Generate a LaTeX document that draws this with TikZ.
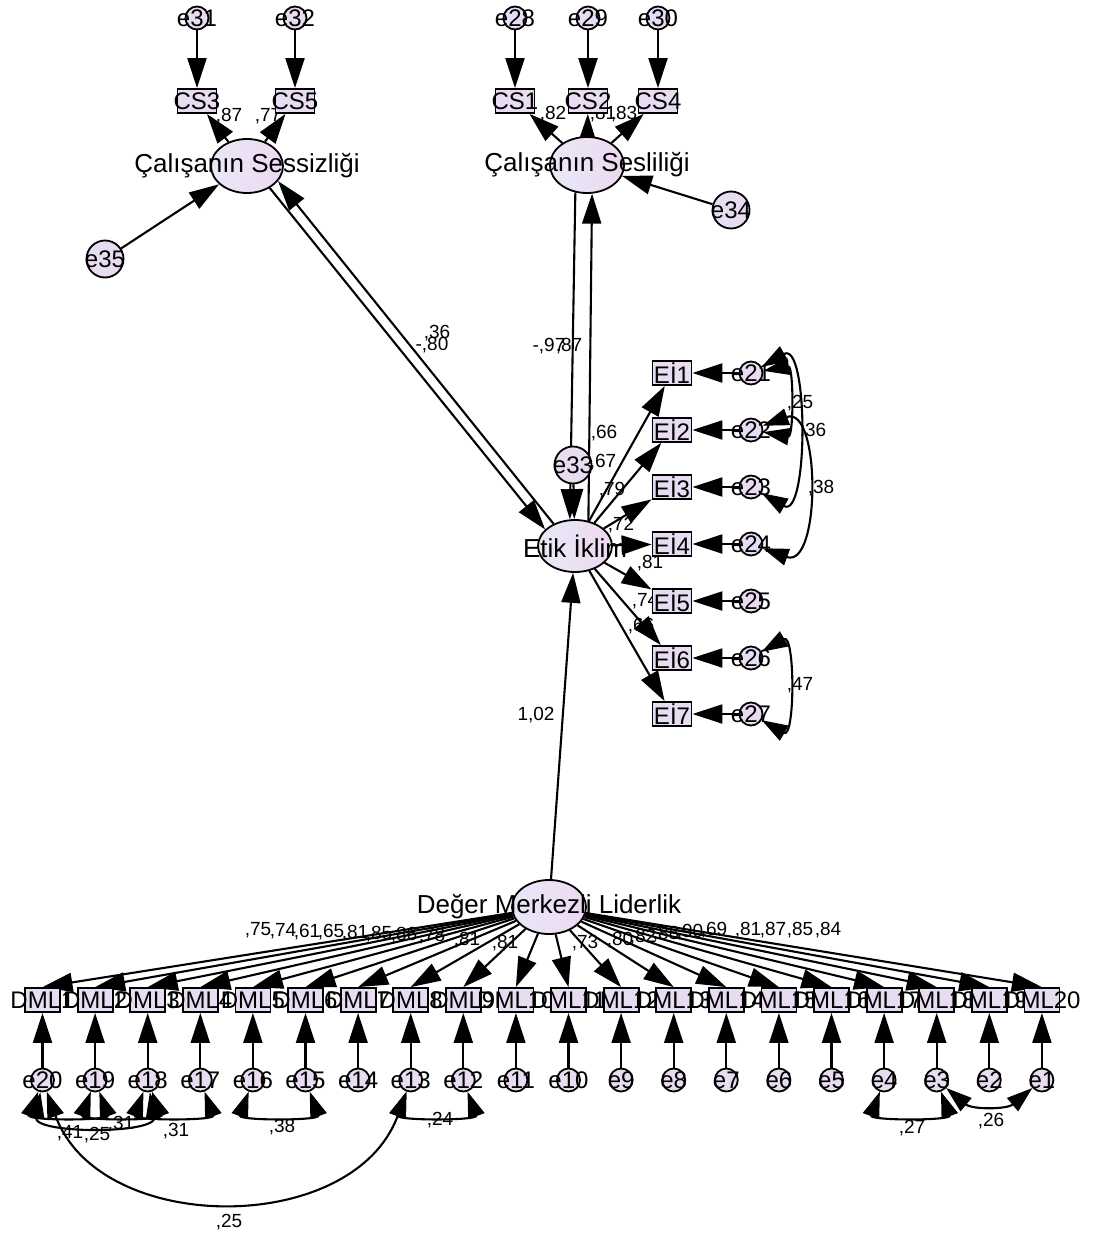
\documentclass[tikz,border=0pt]{standalone}
\usepackage{fontspec}
\setmainfont{Liberation Sans}
\usetikzlibrary{shapes.geometric,arrows.meta}
\definecolor{boxfill}{RGB}{232,220,243}
\definecolor{latleft}{RGB}{232,232,247}
\definecolor{latright}{RGB}{238,216,241}
\pgfdeclarelayer{bg}
\pgfsetlayers{bg,main}

\begin{document}
\begin{tikzpicture}[x=1pt,y=1pt,
  lat/.style={ellipse,draw,line width=1.8pt,left color=latleft,right color=latright,inner sep=0pt,minimum width=74pt,minimum height=54pt},
  obs/.style={rectangle,draw,line width=1.8pt,fill=boxfill,inner sep=0pt,minimum width=39pt,minimum height=24pt},
  dmlbox/.style={obs,minimum width=35pt},
  err/.style={circle,draw,line width=1.8pt,fill=boxfill,inner sep=0pt,minimum size=23pt},
  dist/.style={err,minimum size=37pt},
  lattxt/.style={font=\fontsize{26}{26}\selectfont,inner sep=0pt},
  obstxt/.style={font=\fontsize{24}{24}\selectfont,inner sep=0pt},
  wt/.style={font=\fontsize{19}{19}\selectfont,inner sep=0pt},
  reg/.style={line width=2.1pt,-{Triangle[length=30pt,width=19pt]}},
  cov/.style={line width=2.1pt,{Triangle[length=26pt,width=17pt]}-{Triangle[length=26pt,width=17pt]}}]
  \useasboundingbox (0,0) rectangle (1104,-1239);
  % weights
  \node[wt] (w1) at (229,-116) {,87};
  \node[wt] (w2) at (268,-116) {,77};
  \node[wt] (w3) at (553,-114) {,82};
  \node[wt] (w4) at (603,-114) {,81};
  \node[wt] (w5) at (624,-114) {,83};
  \node[wt] (w6) at (437,-333) {,36};
  \node[wt] (w7) at (432,-345) {-,80};
  \node[wt] (w8) at (549,-346) {-,97};
  \node[wt] (w9) at (569,-346) {,87};
  \node[wt] (w10) at (536,-715) {1,02};
  \node[wt] (w11) at (604,-433) {,66};
  \node[wt] (w12) at (603,-462) {,67};
  \node[wt] (w13) at (612,-490) {,79};
  \node[wt] (w14) at (621,-525) {,72};
  \node[wt] (w15) at (650,-563) {,81};
  \node[wt] (w16) at (645,-601) {,74};
  \node[wt] (w17) at (641,-626) {,66};
  \node[wt] (w18) at (800,-403) {,25};
  \node[wt] (w19) at (813,-431) {,36};
  \node[wt] (w20) at (821,-488) {,38};
  \node[wt] (w21) at (800,-685) {,47};
  \node[wt] (w22) at (258,-930) {,75};
  \node[wt] (w23) at (283,-931) {,74};
  \node[wt] (w24) at (307,-932) {,61};
  \node[wt] (w25) at (331,-932) {,65};
  \node[wt] (w26) at (355,-933) {,81};
  \node[wt] (w27) at (379,-934) {,85};
  \node[wt] (w28) at (404,-935) {,86};
  \node[wt] (w29) at (432,-936) {,78};
  \node[wt] (w30) at (467,-940) {,81};
  \node[wt] (w31) at (505,-943) {,81};
  \node[wt] (w32) at (585,-943) {,73};
  \node[wt] (w33) at (620,-940) {,80};
  \node[wt] (w34) at (643,-937) {,82};
  \node[wt] (w35) at (666,-934) {,88};
  \node[wt] (w36) at (690,-932) {,90};
  \node[wt] (w37) at (714,-930) {,69};
  \node[wt] (w38) at (748,-930) {,81};
  \node[wt] (w39) at (773,-930) {,87};
  \node[wt] (w40) at (800,-930) {,85};
  \node[wt] (w41) at (828,-930) {,84};
  \node[wt] (w42) at (70,-1133) {,41};
  \node[wt] (w43) at (97,-1135) {,25};
  \node[wt] (w44) at (121,-1124) {,31};
  \node[wt] (w45) at (176,-1131) {,31};
  \node[wt] (w46) at (282,-1127) {,38};
  \node[wt] (w47) at (440,-1120) {,24};
  \node[wt] (w48) at (229,-1222) {,25};
  \node[wt] (w49) at (912,-1128) {,27};
  \node[wt] (w50) at (991,-1121) {,26};
  % silence
  \node[err,label={[obstxt]center:e31}] (e31) at (197,-18) {};
  \node[err,label={[obstxt]center:e32}] (e32) at (295,-18) {};
  \node[obs,label={[obstxt]center:CS3}] (cs3) at (197,-101) {};
  \node[obs,label={[obstxt]center:CS5}] (cs5) at (295,-101) {};
  \node[lat,minimum width=72pt,label={[lattxt]center:Çalışanın Sessizliği}] (ses) at (247,-166) {};
  \node[dist,label={[obstxt]center:e35}] (e35) at (105,-259) {};
  % voice
  \node[err,label={[obstxt]center:e28}] (e28) at (515,-18) {};
  \node[err,label={[obstxt]center:e29}] (e29) at (588,-18) {};
  \node[err,label={[obstxt]center:e30}] (e30) at (658,-18) {};
  \node[obs,label={[obstxt]center:CS1}] (cs1) at (515,-101) {};
  \node[obs,label={[obstxt]center:CS2}] (cs2) at (588,-101) {};
  \node[obs,label={[obstxt]center:CS4}] (cs4) at (658,-101) {};
  \node[lat,minimum height=56pt,label={[lattxt]center:Çalışanın Sesliliği}] (sesl) at (587,-165) {};
  \node[dist,label={[obstxt]center:e34}] (e34) at (731,-210) {};
  % ethical climate
  \node[lat,minimum height=52pt,label={[lattxt]center:Etik İklim}] (etik) at (575,-546) {};
  \node[dist,label={[obstxt]center:e33}] (e33) at (573,-465) {};
  \node[obs,label={[obstxt]center:Eİ1}] (ei1) at (672,-373) {};
  \node[obs,label={[obstxt]center:Eİ2}] (ei2) at (672,-430) {};
  \node[obs,label={[obstxt]center:Eİ3}] (ei3) at (672,-487) {};
  \node[obs,label={[obstxt]center:Eİ4}] (ei4) at (672,-544) {};
  \node[obs,label={[obstxt]center:Eİ5}] (ei5) at (672,-601) {};
  \node[obs,label={[obstxt]center:Eİ6}] (ei6) at (672,-658) {};
  \node[obs,label={[obstxt]center:Eİ7}] (ei7) at (672,-714) {};
  \node[err,label={[obstxt]center:e21}] (e21) at (751,-373) {};
  \node[err,label={[obstxt]center:e22}] (e22) at (751,-430) {};
  \node[err,label={[obstxt]center:e23}] (e23) at (751,-487) {};
  \node[err,label={[obstxt]center:e24}] (e24) at (751,-544) {};
  \node[err,label={[obstxt]center:e25}] (e25) at (751,-601) {};
  \node[err,label={[obstxt]center:e26}] (e26) at (751,-658) {};
  \node[err,label={[obstxt]center:e27}] (e27) at (751,-714) {};
  % value based leadership
  \node[lat,label={[lattxt]center:Değer Merkezli Liderlik}] (dml) at (549,-907) {};
  \node[dmlbox,label={[obstxt]center:DML1}] (m1) at (42.5,-1000) {};
  \node[dmlbox,label={[obstxt]center:DML2}] (m2) at (95.1,-1000) {};
  \node[dmlbox,label={[obstxt]center:DML3}] (m3) at (147.7,-1000) {};
  \node[dmlbox,label={[obstxt]center:DML4}] (m4) at (200.3,-1000) {};
  \node[dmlbox,label={[obstxt]center:DML5}] (m5) at (252.9,-1000) {};
  \node[dmlbox,label={[obstxt]center:DML6}] (m6) at (305.5,-1000) {};
  \node[dmlbox,label={[obstxt]center:DML7}] (m7) at (358.1,-1000) {};
  \node[dmlbox,label={[obstxt]center:DML8}] (m8) at (410.7,-1000) {};
  \node[dmlbox,label={[obstxt]center:DML9}] (m9) at (463.3,-1000) {};
  \node[dmlbox,label={[obstxt]center:DML10}] (m10) at (515.9,-1000) {};
  \node[dmlbox,label={[obstxt]center:DML11}] (m11) at (568.5,-1000) {};
  \node[dmlbox,label={[obstxt]center:DML12}] (m12) at (621.1,-1000) {};
  \node[dmlbox,label={[obstxt]center:DML13}] (m13) at (673.7,-1000) {};
  \node[dmlbox,label={[obstxt]center:DML14}] (m14) at (726.3,-1000) {};
  \node[dmlbox,label={[obstxt]center:DML15}] (m15) at (778.9,-1000) {};
  \node[dmlbox,label={[obstxt]center:DML16}] (m16) at (831.5,-1000) {};
  \node[dmlbox,label={[obstxt]center:DML17}] (m17) at (884.1,-1000) {};
  \node[dmlbox,label={[obstxt]center:DML18}] (m18) at (936.7,-1000) {};
  \node[dmlbox,label={[obstxt]center:DML19}] (m19) at (989.3,-1000) {};
  \node[dmlbox,label={[obstxt]center:DML20}] (m20) at (1041.9,-1000) {};
  \node[err,label={[obstxt]center:e20}] (e20) at (42.5,-1080) {};
  \node[err,label={[obstxt]center:e19}] (e19) at (95.1,-1080) {};
  \node[err,label={[obstxt]center:e18}] (e18) at (147.7,-1080) {};
  \node[err,label={[obstxt]center:e17}] (e17) at (200.3,-1080) {};
  \node[err,label={[obstxt]center:e16}] (e16) at (252.9,-1080) {};
  \node[err,label={[obstxt]center:e15}] (e15) at (305.5,-1080) {};
  \node[err,label={[obstxt]center:e14}] (e14) at (358.1,-1080) {};
  \node[err,label={[obstxt]center:e13}] (e13) at (410.7,-1080) {};
  \node[err,label={[obstxt]center:e12}] (e12) at (463.3,-1080) {};
  \node[err,label={[obstxt]center:e11}] (e11) at (515.9,-1080) {};
  \node[err,label={[obstxt]center:e10}] (e10) at (568.5,-1080) {};
  \node[err,label={[obstxt]center:e9}] (e9) at (621.1,-1080) {};
  \node[err,label={[obstxt]center:e8}] (e8) at (673.7,-1080) {};
  \node[err,label={[obstxt]center:e7}] (e7) at (726.3,-1080) {};
  \node[err,label={[obstxt]center:e6}] (e6) at (778.9,-1080) {};
  \node[err,label={[obstxt]center:e5}] (e5) at (831.5,-1080) {};
  \node[err,label={[obstxt]center:e4}] (e4) at (884.1,-1080) {};
  \node[err,label={[obstxt]center:e3}] (e3) at (936.7,-1080) {};
  \node[err,label={[obstxt]center:e2}] (e2) at (989.3,-1080) {};
  \node[err,label={[obstxt]center:e1}] (e1) at (1041.9,-1080) {};
  \begin{pgfonlayer}{bg}
  \draw[reg] (e31) -- (cs3);
  \draw[reg] (e32) -- (cs5);
  \draw[reg] (ses) -- (cs3);
  \draw[reg] (ses) -- (cs5);
  \draw[reg] (e35) -- (ses);
  \draw[reg] (e28) -- (cs1);
  \draw[reg] (e29) -- (cs2);
  \draw[reg] (e30) -- (cs4);
  \draw[reg] (sesl) -- (cs1);
  \draw[reg] (sesl) -- (cs2);
  \draw[reg] (sesl) -- (cs4);
  \draw[reg] (e34) -- (sesl);
  \draw[reg] (ses.-44) -- (etik.151);
  \draw[reg] (etik.134) -- (ses.-26);
  \draw[reg] (sesl.-113) -- (etik.101);
  \draw[reg] (etik.62) -- (sesl.-80);
  \draw[reg] (e33) -- (etik);
  \draw[reg] (dml) -- (etik);
  \draw[reg] (etik) -- (ei1);
  \draw[reg] (etik) -- (ei2);
  \draw[reg] (etik) -- (ei3);
  \draw[reg] (etik) -- (ei4);
  \draw[reg] (etik) -- (ei5);
  \draw[reg] (etik) -- (ei6);
  \draw[reg] (etik) -- (ei7);
  \draw[reg] (e21) -- (ei1);
  \draw[reg] (e22) -- (ei2);
  \draw[reg] (e23) -- (ei3);
  \draw[reg] (e24) -- (ei4);
  \draw[reg] (e25) -- (ei5);
  \draw[reg] (e26) -- (ei6);
  \draw[reg] (e27) -- (ei7);
  \draw[cov] (e21) to[out=10,in=-10,looseness=1.3] (e22);
  \draw[cov] (e21) to[out=30,in=-30,looseness=1.1] (e23);
  \draw[cov] (e22) to[out=20,in=-20,looseness=1.3] (e24);
  \draw[cov] (e26) to[out=30,in=-30,looseness=1.45] (e27);
  \draw[reg] (dml) -- (m1.north);
  \draw[reg] (dml) -- (m2.north);
  \draw[reg] (dml) -- (m3.north);
  \draw[reg] (dml) -- (m4.north);
  \draw[reg] (dml) -- (m5.north);
  \draw[reg] (dml) -- (m6.north);
  \draw[reg] (dml) -- (m7.north);
  \draw[reg] (dml) -- (m8.north);
  \draw[reg] (dml) -- (m9.north);
  \draw[reg] (dml) -- (m10.north);
  \draw[reg] (dml) -- (m11.north);
  \draw[reg] (dml) -- (m12.north);
  \draw[reg] (dml) -- (m13.north);
  \draw[reg] (dml) -- (m14.north);
  \draw[reg] (dml) -- (m15.north);
  \draw[reg] (dml) -- (m16.north);
  \draw[reg] (dml) -- (m17.north);
  \draw[reg] (dml) -- (m18.north);
  \draw[reg] (dml) -- (m19.north);
  \draw[reg] (dml) -- (m20.north);
  \draw[reg] (e20) -- (m1);
  \draw[reg] (e19) -- (m2);
  \draw[reg] (e18) -- (m3);
  \draw[reg] (e17) -- (m4);
  \draw[reg] (e16) -- (m5);
  \draw[reg] (e15) -- (m6);
  \draw[reg] (e14) -- (m7);
  \draw[reg] (e13) -- (m8);
  \draw[reg] (e12) -- (m9);
  \draw[reg] (e11) -- (m10);
  \draw[reg] (e10) -- (m11);
  \draw[reg] (e9) -- (m12);
  \draw[reg] (e8) -- (m13);
  \draw[reg] (e7) -- (m14);
  \draw[reg] (e6) -- (m15);
  \draw[reg] (e5) -- (m16);
  \draw[reg] (e4) -- (m17);
  \draw[reg] (e3) -- (m18);
  \draw[reg] (e2) -- (m19);
  \draw[reg] (e1) -- (m20);
  \draw[cov] (e20) to[out=-110,in=-70,looseness=1.3] (e19);
  \draw[cov] (e20) to[out=-100,in=-80] (e18);
  \draw[cov] (e19) to[out=-110,in=-70,looseness=1.3] (e18);
  \draw[cov] (e18) to[out=-110,in=-70,looseness=1.3] (e17);
  \draw[cov] (e16) to[out=-110,in=-70,looseness=1.3] (e15);
  \draw[cov] (e13) to[out=-110,in=-70,looseness=1.3] (e12);
  \draw[cov] (e20) to[out=-70,in=-110,looseness=1.1] (e13);
  \draw[cov] (e4) to[out=-110,in=-70,looseness=1.3] (e3);
  \draw[cov] (e3) to[out=-40,in=-140] (e1);
  \end{pgfonlayer}
\end{tikzpicture}
\end{document}
